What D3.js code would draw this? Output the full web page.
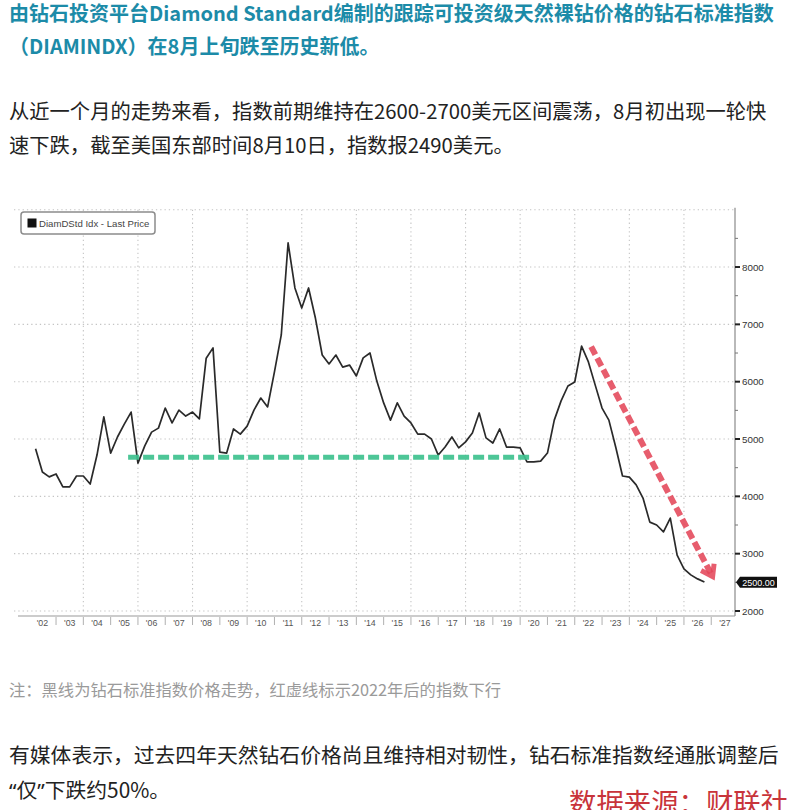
<!DOCTYPE html>
<html lang="zh">
	<head>
		<meta charset="utf-8">
		<title>DIAMINDX</title>
		<script type="text/javascript" src="https://d3js.org/d3.v7.min.js"></script>
		<style type="text/css">
            body{margin:0;background:#fff;}
            svg{display:block;}
            .cn{font-family:"Noto Sans CJK SC","Noto Sans",sans-serif;}
            .ax{font-family:"Liberation Sans","DejaVu Sans",sans-serif;}
		</style>
	</head>
	<body>
    <div id="chart1"></div>
		<script type="text/javascript">
            // quarterly index values, first point = Q2 '02
            var startYear = 2002.25
            var stepYear = 0.25
            var values = [4830,4425,4340,4390,4165,4165,4355,4355,4215,4720,
                          5385,4755,5035,5260,5470,4580,4880,5120,5190,5540,
                          5280,5505,5400,5470,5350,6410,6590,4770,4755,5175,
                          5085,5225,5505,5715,5560,6170,6815,8420,7635,7285,
                          7635,7110,6465,6310,6465,6255,6290,6100,6415,6500,
                          6010,5630,5330,5630,5400,5280,5085,5085,5000,4720,
                          4860,5035,4845,4950,5105,5455,5020,4930,5175,4860,
                          4860,4845,4600,4600,4615,4755,5330,5665,5925,5995,
                          6620,6345,5940,5540,5330,4860,4355,4335,4200,3970,
                          3550,3500,3380,3620,2975,2735,2630,2560,2505]
            var yearLabels = ["'02","'03","'04","'05","'06","'07","'08","'09","'10","'11","'12","'13","'14",
                              "'15","'16","'17","'18","'19","'20","'21","'22","'23","'24","'25","'26","'27"]
            var firstLabelYear = 2002
            var yTicks = [2000,3000,4000,5000,6000,7000,8000]
            var yMinor = [2500,3500,4500,5500,6500,7500,8500]
            var lastPrice = 2500
            var legendText = "DiamDStd Idx - Last Price"
            // annotations: [year, value] start -> end
            var greenLine = [[2005.64,4680],[2020.47,4680]]
            var redArrow = [[2022.6,6610],[2027.05,2600]]

            var titleLines = ["由钻石投资平台Diamond Standard编制的跟踪可投资级天然裸钻价格的钻石标准指数",
                              "（DIAMINDX）在8月上旬跌至历史新低。"]
            var introLines = ["从近一个月的走势来看，指数前期维持在2600-2700美元区间震荡，8月初出现一轮快",
                              "速下跌，截至美国东部时间8月10日，指数报2490美元。"]
            var noteText = "注：黑线为钻石标准指数价格走势，红虚线标示2022年后的指数下行"
            var outroLine1 = "有媒体表示，过去四年天然钻石价格尚且维持相对韧性，钻石标准指数经通胀调整后"
            var outroLine2 = ["“","仅","”","下跌约50%。"]
            var sourceText = "数据来源：财联社"

            var W = 797, H = 810
            var svg = d3.select("#chart1").append("svg").attr("width",W).attr("height",H)
            svg.append("rect").attr("width",W).attr("height",H).attr("fill","#fff")

            // text blocks
            svg.selectAll(".title").data(titleLines).enter().append("text")
                .attr("class","cn").attr("x",9).attr("y",function(d,i){return 21+i*33})
                .attr("font-size",20).attr("font-weight","bold").attr("fill","#1c8ba8")
                .text(function(d){return d})
            svg.selectAll(".intro").data(introLines).enter().append("text")
                .attr("class","cn").attr("x",9).attr("y",function(d,i){return 119+i*34})
                .attr("font-size",20.3).attr("fill","#222")
                .text(function(d){return d})
            svg.append("text").attr("class","cn").attr("x",9).attr("y",696)
                .attr("font-size",16.3).attr("fill","#9a9a9a").text(noteText)
            svg.append("text").attr("class","cn").attr("x",9).attr("y",763)
                .attr("font-size",20.8).attr("fill","#222").text(outroLine1)
            var o2 = svg.append("text").attr("class","cn").attr("x",9).attr("y",798)
                .attr("font-size",20.8).attr("fill","#222")
            o2.selectAll("tspan").data(outroLine2).enter().append("tspan")
                .attr("font-family",function(d){return (d=="“"||d=="”") ? "Noto Sans" : null})
                .text(function(d){return d})
            // source line sits at the very bottom, partly cut like the reference
            svg.append("text").attr("class","cn").attr("x",569).attr("y",813)
                .attr("font-size",27.4).attr("fill","#c8343a").text(sourceText)

            // chart area
            var pL = 14, pR = 735, pT = 209.7, pB = 611, axY = 616
            var xScale = d3.scaleLinear().domain([2001.46,2027.87]).range([pL,pR])
            var yScale = d3.scaleLinear().domain([2000,9000]).range([pB,pT])
            var g = svg.append("g").attr("class","ax")

            // dotted grid
            g.selectAll(".hg").data(d3.range(2000,9001,1000)).enter().append("line")
                .attr("x1",pL).attr("x2",pR)
                .attr("y1",function(d){return yScale(d)}).attr("y2",function(d){return yScale(d)})
                .attr("stroke","#c4c4c4").attr("stroke-width",1.1).attr("stroke-dasharray","1.3,3")
            g.selectAll(".vg").data(d3.range(2004,2027,2)).enter().append("line")
                .attr("x1",function(d){return xScale(d)}).attr("x2",function(d){return xScale(d)})
                .attr("y1",pT).attr("y2",pB+2)
                .attr("stroke","#c4c4c4").attr("stroke-width",1.1).attr("stroke-dasharray","1.3,3")

            // y axis on the right
            g.append("line").attr("x1",pR).attr("x2",pR).attr("y1",pT-2).attr("y2",axY)
                .attr("stroke","#8a8a8a").attr("stroke-width",1.2)
            g.selectAll(".ymin").data(yMinor).enter().append("line")
                .attr("x1",pR).attr("x2",pR+3)
                .attr("y1",function(d){return yScale(d)}).attr("y2",function(d){return yScale(d)})
                .attr("stroke","#777").attr("stroke-width",1)
            g.selectAll(".ytk").data(yTicks).enter().append("line")
                .attr("x1",pR).attr("x2",pR+5)
                .attr("y1",function(d){return yScale(d)}).attr("y2",function(d){return yScale(d)})
                .attr("stroke","#222").attr("stroke-width",2)
            g.selectAll(".ylab").data(yTicks).enter().append("text")
                .attr("x",pR+7).attr("y",function(d){return yScale(d)+3.5})
                .attr("font-size",9.8).attr("fill","#333")
                .text(function(d){return d})

            // x axis at the bottom
            g.append("line").attr("x1",18).attr("x2",pR).attr("y1",axY).attr("y2",axY)
                .attr("stroke","#9a9a9a").attr("stroke-width",1.2)
            g.selectAll(".xsep").data(d3.range(2003,2028)).enter().append("line")
                .attr("x1",function(d){return xScale(d)}).attr("x2",function(d){return xScale(d)})
                .attr("y1",axY+1).attr("y2",axY+9)
                .attr("stroke","#b0b0b0").attr("stroke-width",1)
            g.selectAll(".xlab").data(yearLabels).enter().append("text")
                .attr("x",function(d,i){return xScale(firstLabelYear+i+0.5)}).attr("y",axY+10)
                .attr("text-anchor","middle").attr("font-size",8.8).attr("fill","#555")
                .text(function(d){return d})

            // price line
            var line = d3.line()
                .x(function(d,i){return xScale(startYear+i*stepYear)})
                .y(function(d){return yScale(d)})
            g.append("path").datum(values).attr("d",line)
                .attr("fill","none").attr("stroke","#2a2a2a").attr("stroke-width",1.7)
                .attr("stroke-linejoin","round")

            // green support line
            g.append("line")
                .attr("x1",xScale(greenLine[0][0])).attr("y1",yScale(greenLine[0][1]))
                .attr("x2",xScale(greenLine[1][0])).attr("y2",yScale(greenLine[1][1]))
                .attr("stroke","#3ec28f").attr("stroke-width",5).attr("stroke-dasharray","11,4")
                .attr("opacity",0.92)

            // red dashed arrow
            var ax1 = xScale(redArrow[0][0]), ay1 = yScale(redArrow[0][1])
            var ax2 = xScale(redArrow[1][0]), ay2 = yScale(redArrow[1][1])
            var ang = Math.atan2(ay2-ay1, ax2-ax1)
            g.append("line").attr("x1",ax1).attr("y1",ay1).attr("x2",ax2).attr("y2",ay2)
                .attr("stroke","#e4475a").attr("stroke-width",6).attr("stroke-dasharray","9,4")
                .attr("opacity",0.88)
            var hl = 13
            var head = [[ax2-hl*Math.cos(ang-0.6), ay2-hl*Math.sin(ang-0.6)],[ax2,ay2],
                        [ax2-hl*Math.cos(ang+0.6), ay2-hl*Math.sin(ang+0.6)]]
            g.append("path").attr("d",d3.line()(head)).attr("fill","none")
                .attr("stroke","#e4475a").attr("stroke-width",5).attr("opacity",0.88)

            // last price tag
            var ly = yScale(lastPrice)
            g.append("path")
                .attr("d","M"+(pR+1)+","+ly+" L"+(pR+5)+","+(ly-5.5)+" L"+(pR+42)+","+(ly-5.5)+
                          " L"+(pR+42)+","+(ly+5.5)+" L"+(pR+5)+","+(ly+5.5)+" Z")
                .attr("fill","#111")
            g.append("text").attr("x",pR+23.5).attr("y",ly+3.3).attr("text-anchor","middle")
                .attr("font-size",9).attr("fill","#fff").text(lastPrice.toFixed(2))

            // legend
            g.append("rect").attr("x",21).attr("y",212).attr("width",134).attr("height",22).attr("rx",3)
                .attr("fill","#fff").attr("stroke","#8c8c8c").attr("stroke-width",1.5)
            g.append("rect").attr("x",27.5).attr("y",218.5).attr("width",9).attr("height",9).attr("fill","#111")
            g.append("text").attr("x",39).attr("y",226.8).attr("font-size",9.6).attr("fill","#444").text(legendText)
        </script>
	</body>
</html>
